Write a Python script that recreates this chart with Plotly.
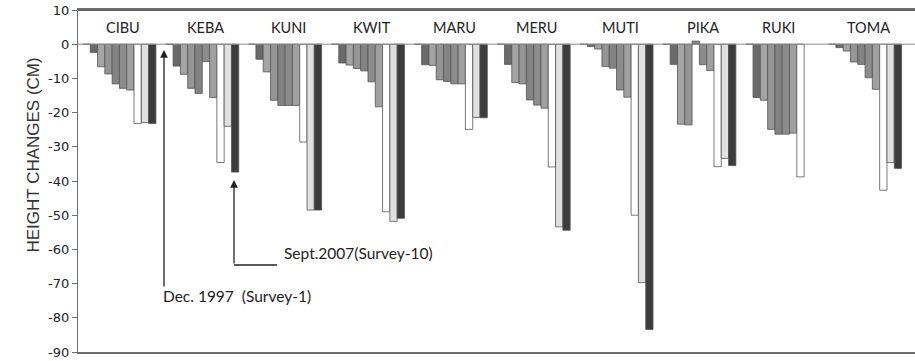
import plotly.graph_objects as go

categories = ["CIBU", "KEBA", "KUNI", "KWIT", "MARU", "MERU", "MUTI", "PIKA", "RUKI", "TOMA"]
surveys = ["Survey-%d" % i for i in range(1, 11)]

s1 = [0, 0, 0, 0, 0, 0, 0, 0, 0, 0]
s2 = [-2.4, -6.4, -4.4, -5.5, -6.0, -5.9, -0.7, -5.9, -15.6, -1.0]
s3 = [-6.6, -8.8, -8.1, -6.1, -6.2, -11.2, -1.4, -23.4, -16.4, -2.0]
s4 = [-8.7, -12.9, -16.4, -7.1, -10.4, -11.6, -6.5, -23.6, -24.9, -5.2]
s5 = [-11.6, -14.4, -17.9, -7.8, -10.9, -16.3, -7.0, 0.9, -26.3, -5.9]
s6 = [-12.9, -5.1, -17.9, -11.0, -11.6, -17.8, -13.4, -6.0, -26.3, -9.8]
s7 = [-13.4, -15.6, -17.9, -18.3, -11.6, -18.7, -15.5, -7.7, -26.0, -13.2]
s8 = [-23.2, -34.6, -28.6, -49.0, -24.9, -35.9, -50.0, -35.8, -38.8, -42.7]
s9 = [-22.9, -24.0, -48.5, -51.8, -21.4, -53.4, -69.7, -33.4, None, -34.6]
s10 = [-23.2, -37.4, -48.5, -50.9, -21.5, -54.4, -83.4, -35.5, None, -36.3]
series = [s1, s2, s3, s4, s5, s6, s7, s8, s9, s10]

y_ticks = [10, 0, -10, -20, -30, -40, -50, -60, -70, -80, -90]
y_ticktext = [str(v) for v in y_ticks]

colors = ["#707070", "#6a6a6a", "#a4a4a4", "#959595", "#838383",
          "#8c8c8c", "#a0a0a0", "#ffffff", "#e0e0e0", "#3c3c3c"]

W, H = 915, 361
L, R, T, B = 78, 0, 10, 9
pw, ph = W - L - R, H - T - B
cat_px = 82.85
xmax = -0.5 + pw / cat_px
bargap = 0.119
barw = (1 - bargap) / 10


def px(xp):
    return (xp - L) / pw


def py(yp):
    return (H - B - yp) / ph


fig = go.Figure()
for name, vals, col in zip(surveys, series, colors):
    fig.add_trace(go.Bar(
        x=list(range(len(categories))), y=vals, name=name,
        marker=dict(color=col, line=dict(color="#555555", width=0.8)),
        showlegend=False,
    ))

annotations = []
for ci, cat in enumerate(categories):
    idx = [si for si, s in enumerate(series) if s[ci] is not None and s[ci] != 0]
    off = (sum(idx) / len(idx) - 4.5) * barw
    annotations.append(dict(x=ci + off, y=5, xref="x", yref="y", text=cat,
                            showarrow=False,
                            font=dict(family="Lato", size=14.5, color="#222222")))

annotations.append(dict(x=px(22), y=py(155), xref="paper", yref="paper",
                        text="HEIGHT CHANGES (CM)", textangle=-90, showarrow=False,
                        font=dict(family="Liberation Sans", size=17, color="#333333")))

annotations.append(dict(x=px(164), y=py(50), xref="paper", yref="paper", text="",
                        showarrow=True, ax=0, ay=238, arrowhead=2, arrowsize=1.2,
                        arrowwidth=1.3, arrowcolor="#222222", standoff=0))
annotations.append(dict(x=px(234), y=py(180), xref="paper", yref="paper", text="",
                        showarrow=True, ax=0, ay=85, arrowhead=2, arrowsize=1.2,
                        arrowwidth=1.3, arrowcolor="#222222", standoff=0))
annotations.append(dict(x=px(161), y=py(307), xref="paper", yref="paper",
                        text="Dec. 1997  (Survey-1)", xanchor="left", showarrow=False,
                        font=dict(family="Lato", size=15.5, color="#222222")))
annotations.append(dict(x=px(282), y=py(264), xref="paper", yref="paper",
                        text="Sept.2007(Survey-10)", xanchor="left", showarrow=False,
                        font=dict(family="Lato", size=15.5, color="#222222")))

shapes = [
    dict(type="line", xref="paper", yref="paper", x0=px(234), x1=px(277),
         y0=py(265), y1=py(265), line=dict(color="#222222", width=1.3)),
    dict(type="line", xref="paper", yref="y", x0=0, x1=1, y0=0, y1=0,
         line=dict(color="#8a8a8a", width=1)),
    dict(type="line", xref="paper", yref="y", x0=0, x1=1, y0=10, y1=10,
         line=dict(color="#5e5e5e", width=1.8)),
]

fig.update_layout(
    width=W, height=H,
    margin=dict(l=L, r=R, t=T, b=B, pad=0),
    paper_bgcolor="white", plot_bgcolor="white",
    barmode="group", bargap=bargap, bargroupgap=0,
    annotations=annotations, shapes=shapes,
    xaxis=dict(range=[-0.5, xmax], showticklabels=False, ticks="",
               showgrid=False, zeroline=False, showline=True, mirror=True,
               linecolor="#6e6e6e", linewidth=1.5),
    yaxis=dict(range=[-90, 10], tickvals=y_ticks, ticktext=y_ticktext,
               ticks="outside", ticklen=5,
               tickcolor="#6e6e6e", showgrid=False, zeroline=False,
               showline=True, linecolor="#6e6e6e", linewidth=1.2,
               tickfont=dict(family="DejaVu Sans", size=13, color="#222222")),
)

fig.write_html("out.html", config={"displayModeBar": False},
               post_script="document.body.style.margin='0px';")
